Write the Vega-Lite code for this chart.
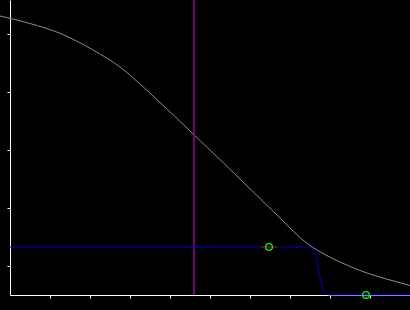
{
  "$schema": "https://vega.github.io/schema/vega-lite/v6.json",
  "width": 400,
  "height": 295,
  "padding": {"left": 10, "top": 0, "right": 0, "bottom": 15},
  "autosize": {"type": "none"},
  "background": "black",
  "config": {"view": {"stroke": null}},
  "datasets": {
    "curve": [
      {"x": -0.25, "y": 9.621},
      {"x": 0.5, "y": 9.362},
      {"x": 1.25, "y": 9.024},
      {"x": 2.075, "y": 8.448},
      {"x": 2.75, "y": 7.862},
      {"x": 3.25, "y": 7.276},
      {"x": 3.75, "y": 6.638},
      {"x": 4.5, "y": 5.655},
      {"x": 5.325, "y": 4.569},
      {"x": 6.175, "y": 3.431},
      {"x": 6.75, "y": 2.655},
      {"x": 7.0, "y": 2.31},
      {"x": 7.25, "y": 1.983},
      {"x": 7.5, "y": 1.707},
      {"x": 7.75, "y": 1.49},
      {"x": 8.0, "y": 1.303},
      {"x": 8.25, "y": 1.138},
      {"x": 8.5, "y": 0.983},
      {"x": 9.0, "y": 0.724},
      {"x": 9.5, "y": 0.517},
      {"x": 10, "y": 0.328}
    ],
    "step": [
      {"x": 0, "y": 1.655},
      {"x": 7.42, "y": 1.655},
      {"x": 7.5, "y": 1.64},
      {"x": 7.583, "y": 1.586},
      {"x": 7.667, "y": 1.207},
      {"x": 7.708, "y": 0.862},
      {"x": 7.767, "y": 0.517},
      {"x": 7.833, "y": 0.172},
      {"x": 7.9, "y": 0.034},
      {"x": 8.0, "y": 0},
      {"x": 10, "y": 0}
    ],
    "err": [{"x": 6.275, "x2": 6.675, "y": 1.655}],
    "pts": [{"x": 6.475, "y": 1.655}, {"x": 8.9, "y": 0}],
    "vline": [{"x": 4.6}]
  },
  "layer": [
    {
      "data": {"name": "curve"},
      "mark": {"type": "line", "color": "#8c8c8c", "strokeWidth": 1, "interpolate": "monotone"},
      "encoding": {
        "x": {"field": "x", "type": "quantitative", "scale": {"domain": [0, 10], "nice": false, "zero": false},
          "axis": {"values": [1,2,3,4,5,6,7,8,9], "labels": false, "title": null, "grid": false, "domainColor": "white", "tickColor": "white", "tickSize": 3, "domainWidth": 1, "tickWidth": 1}},
        "y": {"field": "y", "type": "quantitative", "scale": {"domain": [0, 10.1724], "nice": false, "zero": false},
          "axis": {"values": [1,2,3,4,5,6,7,8,9], "labels": false, "title": null, "grid": false, "domainColor": "white", "tickColor": "white", "tickSize": 3, "domainWidth": 1, "tickWidth": 1}}
      }
    },
    {
      "data": {"name": "vline"},
      "mark": {"type": "rule", "color": "#990099", "strokeWidth": 1.5},
      "encoding": {"x": {"field": "x", "type": "quantitative"}}
    },
    {
      "data": {"name": "step"},
      "mark": {"type": "line", "color": "#0000cc", "strokeWidth": 1, "interpolate": "monotone"},
      "encoding": {
        "x": {"field": "x", "type": "quantitative"},
        "y": {"field": "y", "type": "quantitative"}
      }
    },
    {
      "data": {"name": "err"},
      "mark": {"type": "rule", "color": "#cc0000", "strokeWidth": 1},
      "encoding": {
        "x": {"field": "x", "type": "quantitative"},
        "x2": {"field": "x2"},
        "y": {"field": "y", "type": "quantitative"}
      }
    },
    {
      "data": {"name": "pts"},
      "mark": {"type": "point", "color": "#00ff00", "filled": false, "strokeWidth": 1.3, "size": 45, "opacity": 1},
      "encoding": {
        "x": {"field": "x", "type": "quantitative"},
        "y": {"field": "y", "type": "quantitative"}
      }
    }
  ]
}
